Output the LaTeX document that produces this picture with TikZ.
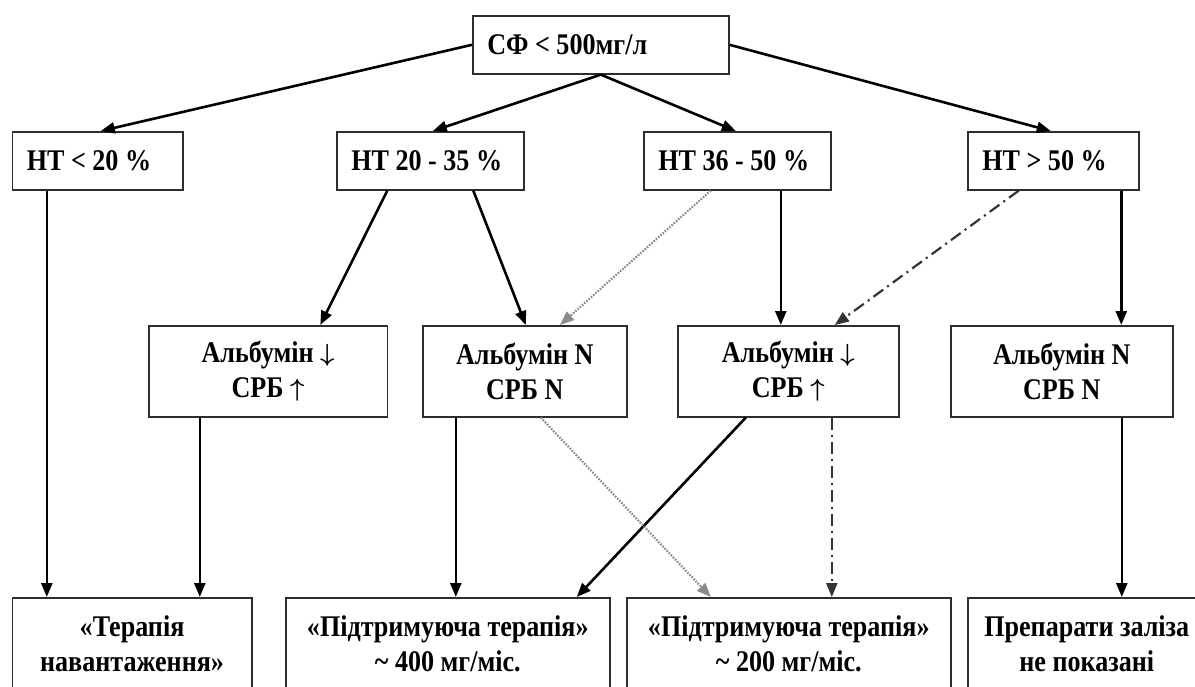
\documentclass[tikz,border=0pt]{standalone}
\usepackage{fontspec}
\setmainfont[FakeStretch=0.87]{Liberation Serif}
\usetikzlibrary{arrows.meta,calc}
\definecolor{boxline}{HTML}{2E2E2E}
\definecolor{dotgray}{HTML}{8A8A8A}
\definecolor{dashgray}{HTML}{333333}
\newcommand{\dnarr}{\raisebox{1pt}{$\boldsymbol{\downarrow}$}}
\newcommand{\uparr}{\raisebox{1pt}{$\boldsymbol{\uparrow}$}}
\usepackage{amsmath}
\tikzset{
  box/.style={draw=boxline, line width=1.6pt, fill=white, anchor=north west,
    inner sep=0pt, font=\fontsize{30}{35}\selectfont\bfseries},
  lbox/.style={box, inner xsep=14.5pt},
  cbox/.style={box, align=center},
  conn/.style={draw=black, line width=2.6pt, -{Triangle[length=14pt,width=11pt]}},
  dotconn/.style={draw=dotgray, line width=2.2pt, dash pattern=on 1.6pt off 1.4pt,
    -{Triangle[length=14pt,width=11pt,fill=dotgray]}},
  dashconn/.style={draw=dashgray, line width=2.2pt, dash pattern=on 12pt off 5pt on 2pt off 5pt,
    -{Triangle[length=14pt,width=11pt,fill=dashgray]}},
}
\begin{document}
\begin{tikzpicture}[x=1pt,y=-1pt]
\useasboundingbox (0,0) rectangle (1195,686);
\clip (0,0) rectangle (1195,686);
% top
\node[lbox, minimum width=256pt, minimum height=58pt] (top) at (472,15) {\makebox[227pt][l]{СФ < 500мг/л}};
% HT row
\node[lbox, minimum width=170.5pt, minimum height=58pt] (h1) at (11.5,131) {\makebox[141.5pt][l]{НТ < 20 \%}};
\node[lbox, minimum width=187pt, minimum height=58pt] (h2) at (336,131) {\makebox[158pt][l]{НТ 20 - 35 \%}};
\node[lbox, minimum width=187pt, minimum height=58pt] (h3) at (643,131) {\makebox[158pt][l]{НТ 36 - 50 \%}};
\node[lbox, minimum width=171pt, minimum height=58pt] (h4) at (967,131) {\makebox[142pt][l]{НТ > 50 \%}};
% albumin row
\node[cbox, minimum width=238.5pt, minimum height=91pt] (a1) at (148,325) {Альбумін \dnarr\\СРБ \uparr};
\node[cbox, minimum width=204pt, minimum height=91pt] (a2) at (422,325) {Альбумін N\\СРБ N};
\node[cbox, minimum width=221pt, minimum height=91pt] (a3) at (677,325) {Альбумін \dnarr\\СРБ \uparr};
\node[cbox, minimum width=222pt, minimum height=91pt] (a4) at (950,325) {Альбумін N\\СРБ N};
% bottom row
\node[cbox, minimum width=239.5pt, minimum height=92pt] (b1) at (11.5,597) {«Терапія\\навантаження»};
\node[cbox, minimum width=324pt, minimum height=92pt] (b2) at (285,597) {«Підтримуюча терапія»\\\textasciitilde{} 400 мг/міс.};
\node[cbox, minimum width=324pt, minimum height=92pt] (b3) at (626,597) {«Підтримуюча терапія»\\\textasciitilde{} 200 мг/міс.};
\node[cbox, minimum width=238pt, minimum height=92pt] (b4) at (967,597) {Препарати заліза\\не показані};
% top -> HT
\draw[conn] (top.west) -- ([xshift=3.25pt]h1.north);
\draw[conn] (top.south) -- ([xshift=2.5pt]h2.north);
\draw[conn] (top.south) -- ([xshift=-1.5pt]h3.north);
\draw[conn] (top.east) -- ([xshift=-2.5pt]h4.north);
% HT -> albumin / bottom
\draw[conn] ([xshift=-50.75pt]h1.south) -- ([xshift=-50.75pt]h1.south |- b1.north);
\draw[conn] ([xshift=-43pt]h2.south) -- ([xshift=52.25pt]a1.north);
\draw[conn] ([xshift=43pt]h2.south) -- ([xshift=1pt]a2.north);
\draw[dotconn] ([xshift=-26.5pt]h3.south) -- ([xshift=35.2pt]a2.north);
\draw[conn] ([xshift=43.5pt]h3.south) -- ([xshift=43.5pt]h3.south |- a3.north);
\draw[dashconn] ([xshift=-34.5pt]h4.south) -- ([xshift=46.5pt]a3.north);
\draw[conn] ([xshift=68pt]h4.south) -- ([xshift=68pt]h4.south |- a4.north);
% albumin -> bottom
\draw[conn] ([xshift=-68.25pt]a1.south) -- ([xshift=-68.25pt]a1.south |- b1.north);
\draw[conn] ([xshift=-69pt]a2.south) -- ([xshift=-69pt]a2.south |- b2.north);
\draw[conn] ([xshift=-42.5pt]a3.south) -- ([xshift=129pt]b2.north);
\draw[dotconn] ([xshift=16pt]a2.south) -- ([xshift=-78pt]b3.north);
\draw[dashconn] ([xshift=43.5pt]a3.south) -- ([xshift=43.5pt]a3.south |- b3.north);
\draw[conn] ([xshift=60pt]a4.south) -- ([xshift=60pt]a4.south |- b4.north);
\end{tikzpicture}
\end{document}
